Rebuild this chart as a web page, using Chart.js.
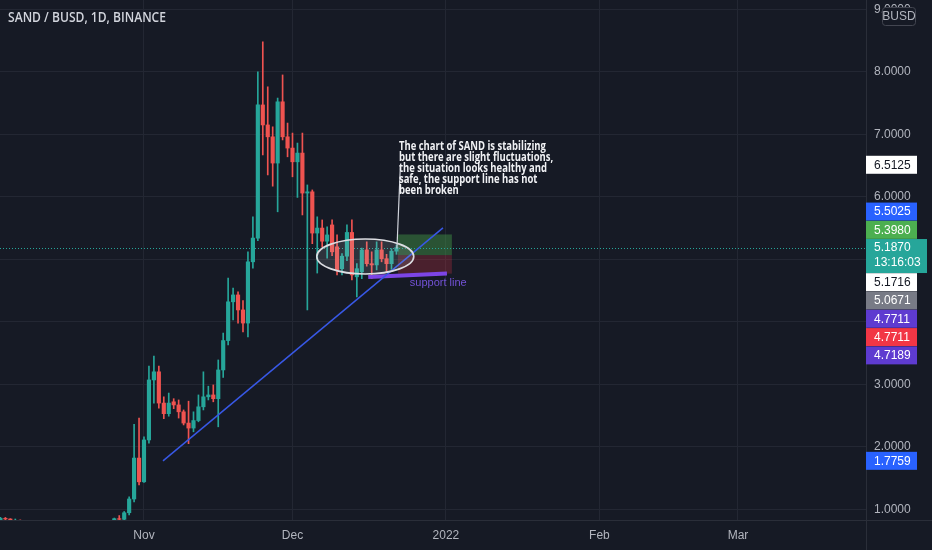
<!DOCTYPE html>
<html><head><meta charset="utf-8">
<script src="https://cdn.jsdelivr.net/npm/chart.js@4.4.1/dist/chart.umd.min.js"></script>
<style>html,body{margin:0;padding:0;background:#161a25;overflow:hidden}canvas{display:block}</style>
</head><body>
<div style="width:932px;height:550px"><canvas id="c"></canvas></div>
<script>
// ---------- DATA ----------
const dates = [
'2021-10-03','2021-10-04','2021-10-05','2021-10-06','2021-10-07','2021-10-08','2021-10-09','2021-10-10','2021-10-11','2021-10-12',
'2021-10-13','2021-10-14','2021-10-15','2021-10-16','2021-10-17','2021-10-18','2021-10-19','2021-10-20','2021-10-21','2021-10-22',
'2021-10-23','2021-10-24','2021-10-25','2021-10-26','2021-10-27','2021-10-28','2021-10-29','2021-10-30','2021-10-31',
'2021-11-01','2021-11-02','2021-11-03','2021-11-04','2021-11-05','2021-11-06','2021-11-07','2021-11-08','2021-11-09','2021-11-10',
'2021-11-11','2021-11-12','2021-11-13','2021-11-14','2021-11-15','2021-11-16','2021-11-17','2021-11-18','2021-11-19','2021-11-20',
'2021-11-21','2021-11-22','2021-11-23','2021-11-24','2021-11-25','2021-11-26','2021-11-27','2021-11-28','2021-11-29','2021-11-30',
'2021-12-01','2021-12-02','2021-12-03','2021-12-04','2021-12-05','2021-12-06','2021-12-07','2021-12-08','2021-12-09','2021-12-10',
'2021-12-11','2021-12-12','2021-12-13','2021-12-14','2021-12-15','2021-12-16','2021-12-17','2021-12-18','2021-12-19','2021-12-20',
'2021-12-21','2021-12-22'];
const opens = [
0.80,0.855,0.845,0.82,0.825,0.79,0.77,0.78,0.73,0.72,
0.70,0.71,0.73,0.74,0.73,0.71,0.70,0.72,0.75,0.71,
0.70,0.71,0.70,0.73,0.85,0.84,0.945,1.165,1.82,
1.44,2.11,3.07,3.20,2.70,2.53,2.72,2.67,2.56,2.38,
2.30,2.42,2.64,2.80,2.83,2.77,3.23,3.70,4.32,4.43,
4.19,3.98,4.96,5.34,7.47,7.15,6.96,6.54,7.52,6.96,
6.78,6.56,6.70,6.06,6.08,5.42,5.50,5.29,5.55,5.20,
4.85,5.05,5.43,4.72,4.80,5.15,4.93,4.91,5.15,5.01,
4.93,5.13];
const highs = [
0.87,0.87,0.85,0.845,0.83,0.82,0.80,0.81,0.76,0.74,
0.73,0.75,0.76,0.77,0.74,0.73,0.73,0.76,0.78,0.73,
0.72,0.72,0.74,0.86,0.90,0.965,1.20,2.36,2.46,
2.16,3.29,3.45,3.29,2.80,2.86,2.77,2.75,2.59,2.73,
2.56,2.83,3.20,2.97,2.99,3.39,3.82,4.70,4.54,4.48,
4.34,5.12,5.68,8.00,8.48,7.76,7.12,7.58,7.95,7.18,
7.02,6.86,7.02,6.19,6.11,5.68,5.63,5.52,5.63,5.39,
5.09,5.55,5.63,4.93,5.18,5.28,5.12,5.28,5.28,5.08,
5.17,5.23];
const lows = [
0.78,0.80,0.79,0.78,0.76,0.75,0.74,0.72,0.70,0.66,
0.67,0.70,0.71,0.72,0.69,0.68,0.69,0.71,0.70,0.69,
0.69,0.68,0.69,0.72,0.80,0.83,0.91,1.12,1.39,
1.43,2.06,2.70,2.62,2.45,2.49,2.61,2.46,2.35,2.05,
2.24,2.40,2.59,2.75,2.72,2.32,3.11,3.63,4.03,3.98,
3.84,3.76,4.86,5.30,6.67,6.35,6.17,5.76,6.91,6.64,
6.32,5.99,5.71,4.19,5.25,4.78,5.20,5.02,5.06,4.75,
4.75,4.98,4.67,4.40,4.69,4.89,4.69,4.83,4.96,4.80,
4.84,5.08];
const closes = [
0.855,0.845,0.82,0.825,0.79,0.77,0.78,0.73,0.72,0.70,
0.71,0.73,0.74,0.73,0.71,0.70,0.72,0.75,0.71,0.70,
0.71,0.70,0.73,0.85,0.84,0.945,1.165,1.82,1.44,
2.11,3.07,3.20,2.70,2.53,2.70,2.67,2.56,2.38,2.30,
2.42,2.64,2.80,2.83,2.77,3.23,3.70,4.32,4.43,4.19,
3.98,4.96,5.34,7.47,7.15,6.96,6.54,7.52,6.96,6.78,
6.56,6.70,6.06,6.08,5.42,5.50,5.29,5.39,5.12,4.83,
5.05,5.43,4.75,4.85,5.15,4.93,4.91,5.15,5.01,4.93,
5.13,5.187];

const monthTickDates  = ['2021-11-01','2021-12-01','2022-01-01','2022-02-01','2022-03-01'];
const monthTickLabels = ['Nov','Dec','2022','Feb','Mar'];
const priceTicks = [1,2,3,4,5,6,7,8,9];

// drawings (days counted from 2021-11-01, prices in BUSD)
const trendLineDays   = [3.84, 60.4];
const trendLinePrices = [1.7759, 5.5025];
const supportLineDays   = [45.3, 61.2];
const supportLinePrices = [4.7189, 4.7711];
const positionDays = [51.3, 62.2];
const positionEntry = 5.0671, positionTarget = 5.3980, positionStop = 4.7711;
const ellipseDays   = [34.9, 54.5];
const ellipsePrices = [4.765, 5.325];
const calloutDay = 51.5, calloutTextPrice = 6.5125;
const calloutAnchorDay = 51.1, calloutAnchorPrice = 5.1716;
const calloutLines = ['The chart of SAND is stabilizing','but there are slight fluctuations,','the situation looks healthy and','safe, the support line has not','been broken'];
const supportLabelDay = 53.7, supportLabelPrice = 4.62;
const countdown = '13:16:03';

const rightLabelPrices = [6.5125, 5.5025, 5.3980, 5.1716, 5.0671, 4.7711, 4.7711, 4.7189, 1.7759];
const rightLabelFills  = ['#ffffff','#2962ff','#4caf50','#ffffff','#787b86','#5e3bd0','#f23645','#5e3bd0','#2962ff'];
const rightLabelInk    = ['#131722','#ffffff','#ffffff','#131722','#ffffff','#ffffff','#ffffff','#ffffff','#ffffff'];

// ---------- SETUP ----------
const BG = '#161a25';
const UP = '#26a69a', DOWN = '#ef5350';
const DAY0 = Date.UTC(2021, 10, 1);
const dayOf = s => (Date.parse(s + 'T00:00:00Z') - DAY0) / 86400000;
const xs = dates.map(dayOf);
const lastClose = closes[closes.length - 1];
const candleColors = opens.map((o, i) => closes[i] >= o ? UP : DOWN);
const AXIS_FONT = {family: '"Liberation Sans", Arial, sans-serif', size: 12};

function fitText(ctx, text, x, y, targetW) {
  const w = ctx.measureText(text).width;
  const sx = Math.min(1, targetW / w);
  ctx.save(); ctx.translate(x, y); ctx.scale(sx, 1); ctx.fillText(text, 0, 0); ctx.restore();
}

const drawings = {
  id: 'drawings',
  beforeDatasetsDraw(chart) {
    const {ctx, chartArea: a, scales: {x, y}} = chart;
    ctx.save();
    ctx.beginPath(); ctx.rect(a.left, a.top, a.right - a.left, a.bottom - a.top); ctx.clip();
    // long position box
    const x0 = x.getPixelForValue(positionDays[0]), x1 = x.getPixelForValue(positionDays[1]);
    const yT = y.getPixelForValue(positionTarget), yE = y.getPixelForValue(positionEntry), yS = y.getPixelForValue(positionStop);
    ctx.fillStyle = 'rgba(76,175,80,0.38)'; ctx.fillRect(x0, yT, x1 - x0, yE - yT);
    ctx.fillStyle = 'rgba(242,54,69,0.24)'; ctx.fillRect(x0, yE, x1 - x0, yS - yE);
    // current price dotted line
    const yc = Math.round(y.getPixelForValue(lastClose)) + 0.5;
    ctx.strokeStyle = UP; ctx.lineWidth = 1; ctx.setLineDash([1, 2]);
    ctx.beginPath(); ctx.moveTo(a.left, yc); ctx.lineTo(a.right, yc); ctx.stroke();
    ctx.restore();
  },
  afterDatasetsDraw(chart) {
    const {ctx, chartArea: a, scales: {x, y}} = chart;
    ctx.save();
    ctx.beginPath(); ctx.rect(a.left, a.top, a.right - a.left, a.bottom - a.top); ctx.clip();
    // ellipse
    const ex0 = x.getPixelForValue(ellipseDays[0]), ex1 = x.getPixelForValue(ellipseDays[1]);
    const ey0 = y.getPixelForValue(ellipsePrices[1]), ey1 = y.getPixelForValue(ellipsePrices[0]);
    ctx.beginPath();
    ctx.ellipse((ex0 + ex1) / 2, (ey0 + ey1) / 2, (ex1 - ex0) / 2, (ey1 - ey0) / 2, 0, 0, Math.PI * 2);
    ctx.fillStyle = 'rgba(200,204,216,0.14)'; ctx.fill();
    ctx.strokeStyle = '#dcdde2'; ctx.lineWidth = 1.6; ctx.stroke();
    // callout pointer
    const cx = x.getPixelForValue(calloutDay), cyT = y.getPixelForValue(calloutTextPrice);
    ctx.strokeStyle = '#d1d4dc'; ctx.lineWidth = 1.2;
    ctx.beginPath(); ctx.moveTo(cx + 1.5, cyT); ctx.lineTo(x.getPixelForValue(calloutAnchorDay), y.getPixelForValue(calloutAnchorPrice)); ctx.stroke();
    // callout text
    ctx.fillStyle = '#f0f1f4';
    ctx.font = 'bold 11.5px "Liberation Sans Narrow", "Open Sans", sans-serif';
    ctx.textBaseline = 'middle'; ctx.textAlign = 'left';
    const sx = Math.min(1, 147 / ctx.measureText(calloutLines[0]).width);
    calloutLines.forEach((t, i) => {
      ctx.save(); ctx.translate(cx, cyT + (i - 2) * 10.9 + 4); ctx.scale(sx, 1); ctx.fillText(t, 0, 0); ctx.restore();
    });
    // support label
    ctx.fillStyle = '#7352d6';
    ctx.font = '11px "Liberation Sans", Arial, sans-serif';
    ctx.fillText('support line', x.getPixelForValue(supportLabelDay), y.getPixelForValue(supportLabelPrice));
    ctx.restore();
  },
  afterDraw(chart) {
    const {ctx, chartArea: a, scales: {y}} = chart;
    ctx.save();
    // axis separators across full canvas
    ctx.strokeStyle = '#2a2e39'; ctx.lineWidth = 1;
    ctx.beginPath(); ctx.moveTo(a.right + 0.5, 0); ctx.lineTo(a.right + 0.5, chart.height); ctx.stroke();
    ctx.beginPath(); ctx.moveTo(0, a.bottom + 0.5); ctx.lineTo(chart.width, a.bottom + 0.5); ctx.stroke();
    // title
    ctx.fillStyle = '#d1d4dc';
    ctx.font = '600 13.5px "Open Sans", sans-serif';
    ctx.textBaseline = 'middle'; ctx.textAlign = 'left';
    fitText(ctx, 'SAND / BUSD, 1D, BINANCE', 8, 18, 158);
    // BUSD box
    ctx.fillStyle = BG;
    ctx.beginPath(); ctx.roundRect(882.5, 7.5, 33, 18, 3); ctx.fill();
    ctx.strokeStyle = '#434651'; ctx.stroke();
    ctx.fillStyle = '#b2b5be'; ctx.font = '12px "Liberation Sans", Arial, sans-serif';
    ctx.textAlign = 'center'; ctx.fillText('BUSD', 899, 17);
    // price labels
    const L = a.right, W = 51, H = 18, step = 18.3;
    const cyc = y.getPixelForValue(lastClose);
    const curTop = cyc - 8.6, curBot = cyc + 25.4;
    const items = rightLabelPrices.map((p, i) => ({p, i, py: y.getPixelForValue(p)}));
    const above = items.filter(o => o.p > lastClose).sort((a1, b1) => a1.p - b1.p);
    const below = items.filter(o => o.p <= lastClose).sort((a1, b1) => b1.p - a1.p || a1.i - b1.i);
    let lim = curTop;
    above.forEach(o => { o.c = Math.min(o.py, lim - step / 2); lim = o.c - step / 2; });
    lim = curBot;
    below.forEach(o => { o.c = Math.max(o.py, lim + step / 2); lim = o.c + step / 2; });
    ctx.textAlign = 'left'; ctx.textBaseline = 'middle';
    ctx.font = '12px "Liberation Sans", Arial, sans-serif';
    items.forEach(o => {
      ctx.fillStyle = rightLabelFills[o.i];
      ctx.fillRect(L, o.c - H / 2, W, H);
      ctx.fillStyle = rightLabelInk[o.i];
      ctx.fillText(o.p.toFixed(4), L + 8, o.c + 0.5);
    });
    // current price label
    ctx.fillStyle = UP;
    ctx.fillRect(L, curTop, 61, curBot - curTop);
    ctx.fillStyle = '#ffffff';
    ctx.fillText(lastClose.toFixed(4), L + 8, cyc + 0.5);
    ctx.fillText(countdown, L + 8, cyc + 15.5);
    ctx.restore();
  }
};

const chart = new Chart(document.getElementById('c'), {
  type: 'bar',
  data: {
    datasets: [
      {type: 'line', data: trendLineDays.map((d, i) => ({x: d, y: trendLinePrices[i]})),
       borderColor: '#3858e6', borderWidth: 1.5, pointRadius: 0, order: 1},
      {type: 'line', data: supportLineDays.map((d, i) => ({x: d, y: supportLinePrices[i]})),
       borderColor: '#7d45e6', borderWidth: 4, pointRadius: 0, order: 1},
      {data: xs.map((d, i) => ({x: d, y: [lows[i], highs[i]]})), backgroundColor: candleColors,
       barThickness: 1, grouped: false, borderWidth: 0, order: 3},
      {data: xs.map((d, i) => ({x: d, y: [opens[i], closes[i]]})), backgroundColor: candleColors,
       barThickness: 3.5, grouped: false, borderWidth: 0, order: 2}
    ]
  },
  options: {
    responsive: true, maintainAspectRatio: false, animation: false,
    layout: {padding: 0, autoPadding: false},
    plugins: {legend: {display: false}, tooltip: {enabled: false}},
    events: [],
    scales: {
      x: {
        type: 'linear', min: -29.09, max: 145.86, position: 'bottom', offset: false,
        afterBuildTicks: s => { s.ticks = monthTickDates.map(d => ({value: dayOf(d)})); },
        afterFit: s => { s.height = 30; s.paddingLeft = 0; s.paddingRight = 0; },
        ticks: {autoSkip: false, maxRotation: 0, minRotation: 0, padding: 8, color: '#b2b5be', font: AXIS_FONT,
                callback: (v, i) => monthTickLabels[i]},
        grid: {color: '#232733', drawTicks: false, offset: false},
        border: {color: '#2a2e39'}
      },
      y: {
        type: 'linear', position: 'right', min: 0.829, max: 9.149,
        afterBuildTicks: s => { s.ticks = priceTicks.map(v => ({value: v})); },
        afterFit: s => { s.width = 66; s.paddingTop = 0; s.paddingBottom = 0; },
        ticks: {padding: 8, color: '#b2b5be', font: AXIS_FONT, callback: v => Number(v).toFixed(4)},
        grid: {color: '#232733', drawTicks: false},
        border: {color: '#2a2e39'}
      }
    }
  },
  plugins: [drawings]
});
</script>
</body></html>
